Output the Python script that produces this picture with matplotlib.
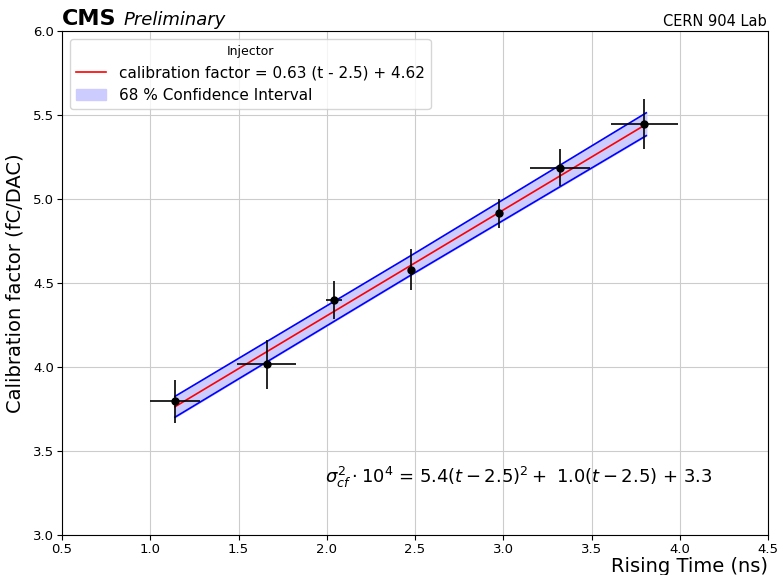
import matplotlib
matplotlib.use('Agg')
import matplotlib.pyplot as plt

# measured points
rise_time = [1.14, 1.66, 2.04, 2.475, 2.975, 3.32, 3.80]
rise_err = [0.14, 0.166, 0.045, 0.0, 0.0, 0.169, 0.19]
calib = [3.795, 4.015, 4.40, 4.58, 4.915, 5.185, 5.445]
calib_err = [0.13, 0.146, 0.113, 0.12, 0.086, 0.11, 0.149]

# fit and confidence band (half widths)
slope, t0, offset = 0.63, 2.5, 4.62
band_t = [1.14, 2.5, 3.81]
band_half = [0.062, 0.058, 0.068]

fit_t = [band_t[0], band_t[-1]]
fit_y = [slope * (t - t0) + offset for t in fit_t]
band_mid = [slope * (t - t0) + offset for t in band_t]
band_lo = [m - h for m, h in zip(band_mid, band_half)]
band_hi = [m + h for m, h in zip(band_mid, band_half)]

fig = plt.figure(figsize=(7.78, 5.75), dpi=100)
ax = fig.add_axes([0.0797, 0.0696, 0.9075, 0.8764])

ax.fill_between(band_t, band_lo, band_hi, color='#ccccff', alpha=1.0,
                label='68 % Confidence Interval', zorder=2)
ax.plot(band_t, band_lo, color='blue', lw=1.2, zorder=3)
ax.plot(band_t, band_hi, color='blue', lw=1.2, zorder=3)
ax.plot(fit_t, fit_y, color='red', lw=1.2, zorder=4,
        label='calibration factor = 0.63 (t - 2.5) + 4.62')
ax.errorbar(rise_time, calib, xerr=rise_err, yerr=calib_err, fmt='o',
            color='black', ms=5, elinewidth=1.2, capsize=0, zorder=5)

ax.set_xlim(0.5, 4.5)
ax.set_ylim(3.0, 6.0)
ax.grid(True, color='#cccccc', lw=0.8)
ax.set_axisbelow(True)
ax.tick_params(labelsize=9.5, pad=2)
ax.set_ylabel('Calibration factor (fC/DAC)', fontsize=14, labelpad=6)
ax.set_xlabel('Rising Time (ns)', fontsize=14, loc='right', labelpad=1)

handles, labels = ax.get_legend_handles_labels()
order = [labels.index('calibration factor = 0.63 (t - 2.5) + 4.62'),
         labels.index('68 % Confidence Interval')]
leg = ax.legend([handles[i] for i in order], [labels[i] for i in order],
                title='Injector', loc='upper left', fontsize=11,
                title_fontsize=9)

ax.text(0.0, 1.005, 'CMS', transform=ax.transAxes, fontsize=16,
        fontweight='bold', va='bottom')
ax.text(0.087, 1.005, 'Preliminary', transform=ax.transAxes, fontsize=13,
        style='italic', va='bottom')
ax.text(0.998, 1.005, 'CERN 904 Lab', transform=ax.transAxes, fontsize=10.5,
        ha='right', va='bottom')

ax.text(1.99, 3.345,
        r'$\sigma_{cf}^2 \cdot 10^4$ = 5.4$(t-2.5)^2 +$ 1.0$(t-2.5)$ + 3.3',
        fontsize=13, va='center')

fig.savefig('out.png', dpi=100)
